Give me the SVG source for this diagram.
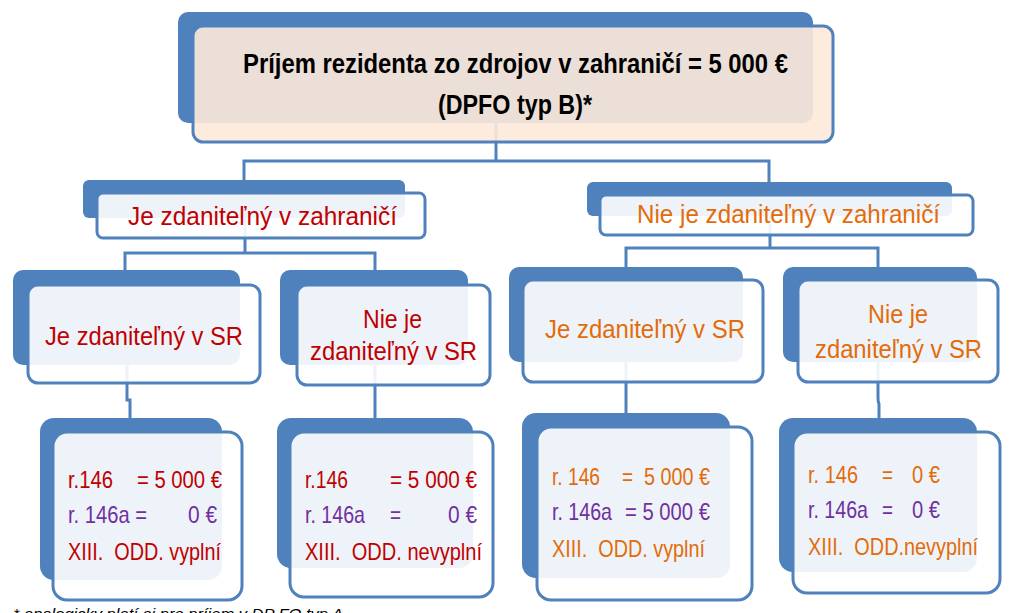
<svg xmlns="http://www.w3.org/2000/svg" width="1012" height="613" viewBox="0 0 1012 613">
<style>
.back{fill:#4f81bd}
.front{fill:#ffffff;fill-opacity:0.9;stroke:#4f81bd;stroke-width:3}
.frontTop{fill:#fde9d9;fill-opacity:0.9;stroke:#4f81bd;stroke-width:3}
.conn{fill:none;stroke:#4f81bd;stroke-width:3}
text{font-family:"Liberation Sans Narrow","Liberation Sans",Arial,sans-serif}
.title{font-size:27px;font-weight:bold;fill:#000}
.lbl{font-size:26.5px}
.val{font-size:24px}
.red{fill:#c00000}
.org{fill:#e36c09}
.pur{fill:#7030a0}
.mid{text-anchor:middle}
.note{font-size:14px;font-style:italic;fill:#000}
</style>
<rect width="1012" height="613" fill="#ffffff"/>

<g id="connectors">
<path class="conn" d="M496,123 V161 M242.5,161 H770.5 M244,161 V182 M769,161 V184"/>
<path class="conn" d="M245,218 V253 M123.5,253 H376.5 M125,253 V272 M375,253 V272"/>
<path class="conn" d="M770,216 V248 M624.5,248 H879.5 M626,248 V269 M878,248 V269"/>
<path class="conn" d="M127,365 V400 H130 V420"/>
<path class="conn" d="M375,365 V420"/>
<path class="conn" d="M626,362 V415"/>
<path class="conn" d="M878,362 V398 Q878,402 879,404 V420"/>
</g>

<g id="top">
<rect class="back" x="178" y="12" width="635" height="111" rx="10"/>
<rect class="frontTop" x="193" y="26" width="640" height="116" rx="10"/>
<text class="title mid" x="515.5" y="73" textLength="545" lengthAdjust="spacingAndGlyphs">Príjem rezidenta zo zdrojov v zahraničí = 5 000 €</text>
<text class="title mid" x="515" y="114" textLength="154" lengthAdjust="spacingAndGlyphs">(DPFO typ B)*</text>
</g>

<g id="zahranicie-ano">
<rect class="back" x="83" y="180" width="322" height="38" rx="6"/>
<rect class="front" x="97" y="193" width="328" height="45" rx="6"/>
<text class="lbl red mid" x="262.5" y="225" textLength="269" lengthAdjust="spacingAndGlyphs">Je zdaniteľný v zahraničí</text>
</g>

<g id="zahranicie-nie">
<rect class="back" x="587" y="182" width="365" height="34" rx="6"/>
<rect class="front" x="600" y="195" width="373" height="40" rx="6"/>
<text class="lbl org mid" x="788.5" y="223" textLength="303" lengthAdjust="spacingAndGlyphs">Nie je zdaniteľný v zahraničí</text>
</g>

<g id="sr-ano-1">
<rect class="back" x="13" y="270" width="227" height="95" rx="10"/>
<rect class="front" x="28" y="285" width="232" height="98" rx="10"/>
<text class="lbl red mid" x="144" y="345" textLength="198" lengthAdjust="spacingAndGlyphs">Je zdaniteľný v SR</text>
</g>

<g id="sr-nie-1">
<rect class="back" x="280" y="270" width="188" height="95" rx="10"/>
<rect class="front" x="297" y="285" width="193" height="100" rx="10"/>
<text class="lbl red mid" x="392.5" y="328" textLength="59" lengthAdjust="spacingAndGlyphs">Nie je</text>
<text class="lbl red mid" x="393.5" y="360" textLength="167" lengthAdjust="spacingAndGlyphs">zdaniteľný v SR</text>
</g>

<g id="sr-ano-2">
<rect class="back" x="509" y="267" width="234" height="95" rx="10"/>
<rect class="front" x="523" y="280" width="240" height="102" rx="10"/>
<text class="lbl org mid" x="645" y="338" textLength="200" lengthAdjust="spacingAndGlyphs">Je zdaniteľný v SR</text>
</g>

<g id="sr-nie-2">
<rect class="back" x="783" y="267" width="194" height="95" rx="10"/>
<rect class="front" x="798" y="280" width="200" height="102" rx="10"/>
<text class="lbl org mid" x="898" y="323" textLength="60" lengthAdjust="spacingAndGlyphs">Nie je</text>
<text class="lbl org mid" x="898.5" y="358" textLength="167" lengthAdjust="spacingAndGlyphs">zdaniteľný v SR</text>
</g>

<g id="vysledok-1">
<rect class="back" x="40" y="418" width="182" height="162" rx="14"/>
<rect class="front" x="53" y="432" width="189" height="168" rx="14"/>
<text class="val red" x="68" y="488" textLength="45" lengthAdjust="spacingAndGlyphs">r.146</text>
<text class="val red" x="137" y="488" textLength="85" lengthAdjust="spacingAndGlyphs">= 5 000 €</text>
<text class="val pur" x="68" y="523" textLength="79" lengthAdjust="spacingAndGlyphs">r. 146a =</text>
<text class="val pur" x="188" y="523" textLength="29" lengthAdjust="spacingAndGlyphs">0 €</text>
<text class="val red" x="68" y="560" textLength="153" lengthAdjust="spacingAndGlyphs">XIII.&#160; ODD. vyplní</text>
</g>

<g id="vysledok-2">
<rect class="back" x="277" y="418" width="196" height="150" rx="14"/>
<rect class="front" x="290" y="432" width="203" height="165" rx="14"/>
<text class="val red" x="305" y="488" textLength="43" lengthAdjust="spacingAndGlyphs">r.146</text>
<text class="val red" x="390" y="488" textLength="87" lengthAdjust="spacingAndGlyphs">= 5 000 €</text>
<text class="val pur" x="305" y="523" textLength="60" lengthAdjust="spacingAndGlyphs">r. 146a</text>
<text class="val pur" x="390" y="523" textLength="11" lengthAdjust="spacingAndGlyphs">=</text>
<text class="val pur" x="448" y="523" textLength="29" lengthAdjust="spacingAndGlyphs">0 €</text>
<text class="val red" x="305" y="560" textLength="177" lengthAdjust="spacingAndGlyphs">XIII.&#160; ODD. nevyplní</text>
</g>

<g id="vysledok-3">
<rect class="back" x="522" y="413" width="208" height="165" rx="14"/>
<rect class="front" x="537" y="427" width="215" height="173" rx="14"/>
<text class="val org" x="552" y="485" textLength="48" lengthAdjust="spacingAndGlyphs">r. 146</text>
<text class="val org" x="622" y="485" textLength="11" lengthAdjust="spacingAndGlyphs">=</text>
<text class="val org" x="644" y="485" textLength="66" lengthAdjust="spacingAndGlyphs">5 000 €</text>
<text class="val pur" x="552" y="520" textLength="60" lengthAdjust="spacingAndGlyphs">r. 146a</text>
<text class="val pur" x="625" y="520" textLength="85" lengthAdjust="spacingAndGlyphs">= 5 000 €</text>
<text class="val org" x="552" y="557" textLength="153" lengthAdjust="spacingAndGlyphs">XIII.&#160; ODD. vyplní</text>
</g>

<g id="vysledok-4">
<rect class="back" x="779" y="418" width="198" height="154" rx="14"/>
<rect class="front" x="793" y="432" width="207" height="161" rx="14"/>
<text class="val org" x="808" y="483" textLength="50" lengthAdjust="spacingAndGlyphs">r. 146</text>
<text class="val org" x="882" y="483" textLength="11" lengthAdjust="spacingAndGlyphs">=</text>
<text class="val org" x="912" y="483" textLength="28" lengthAdjust="spacingAndGlyphs">0 €</text>
<text class="val pur" x="808" y="518" textLength="60" lengthAdjust="spacingAndGlyphs">r. 146a</text>
<text class="val pur" x="882" y="518" textLength="11" lengthAdjust="spacingAndGlyphs">=</text>
<text class="val pur" x="912" y="518" textLength="28" lengthAdjust="spacingAndGlyphs">0 €</text>
<text class="val org" x="808" y="555" textLength="170" lengthAdjust="spacingAndGlyphs">XIII.&#160; ODD.nevyplní</text>
</g>

<text class="note" x="13" y="619" textLength="330" lengthAdjust="spacingAndGlyphs">* analogicky platí aj pre príjem v DP FO typ A</text>
</svg>
